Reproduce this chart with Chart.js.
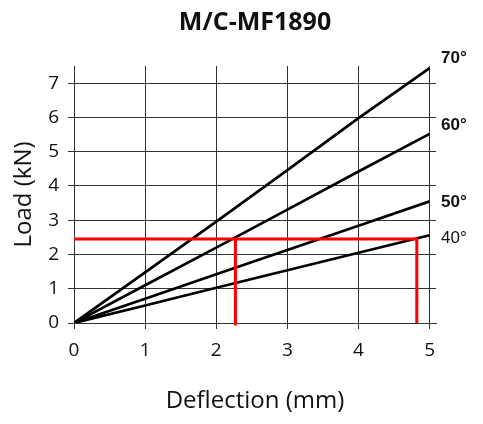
<!DOCTYPE html>
<html>
<head>
<meta charset="utf-8">
<script src="https://cdn.jsdelivr.net/npm/chart.js@4/dist/chart.umd.min.js"></script>
<style>
  html, body { margin: 0; padding: 0; background: #fff; }
  #wrap { width: 483px; height: 424px; }
</style>
</head>
<body>
<div id="wrap"><canvas id="grafica" width="483" height="424"></canvas></div>
<script>
// datos
const deflexion = [0, 1, 2, 3, 4, 5];
const carga70 = [0, 1.48, 2.96, 4.46, 5.98, 7.44];
const carga60 = [0, 1.10, 2.20, 3.31, 4.42, 5.52];
const carga50 = [0, 0.71, 1.42, 2.13, 2.84, 3.55];
const carga40 = [0, 0.51, 1.03, 1.54, 2.05, 2.56];

const etiquetasAngulo = ['70°', '60°', '50°', '40°'];
const posEtiquetas = [7.73, 5.77, 3.52, 2.46]; // altura de cada etiqueta (kN)
const negritaEtiquetas = [true, true, true, false];

// lineas rojas de lectura
const rojaHorizontal = [{x: 0, y: 2.45}, {x: 4.84, y: 2.45}];
const rojaVertical1 = [{x: 2.27, y: 2.45}, {x: 2.27, y: -0.07}];
const rojaVertical2 = [{x: 4.82, y: 2.45}, {x: 4.82, y: 0}];

const ticksX = [0, 1, 2, 3, 4, 5];
const ticksY = [0, 1, 2, 3, 4, 5, 6, 7];

function serie(ys) {
    return deflexion.map((x, i) => ({x: x, y: ys[i]}));
}

const negro = {borderColor: '#000', borderWidth: 2.7, pointRadius: 0, order: 2};
const rojo = {borderColor: '#ff0000', borderWidth: 3, pointRadius: 0, order: 1, clip: false};

const textos = {
    id: 'textos',
    afterDraw(chart) {
        const ctx = chart.ctx;
        const y = chart.scales.y;
        ctx.save();
        ctx.fillStyle = '#111';
        ctx.textAlign = 'center';
        ctx.textBaseline = 'middle';
        ctx.font = 'bold 25px "Open Sans"';
        ctx.fillText('M/C-MF1890', 255, 23);
        ctx.textAlign = 'left';
        etiquetasAngulo.forEach((t, i) => {
            ctx.font = (negritaEtiquetas[i] ? 'bold ' : '') + '17px "Liberation Sans Narrow", "Liberation Sans"';
            ctx.fillText(t, 441, y.getPixelForValue(posEtiquetas[i]));
        });
        ctx.restore();
    }
};

new Chart('grafica', {
    type: 'line',
    data: {
        datasets: [
            Object.assign({data: rojaHorizontal}, rojo),
            Object.assign({data: rojaVertical1}, rojo),
            Object.assign({data: rojaVertical2}, rojo),
            Object.assign({data: serie(carga70)}, negro),
            Object.assign({data: serie(carga60)}, negro),
            Object.assign({data: serie(carga50)}, negro),
            Object.assign({data: serie(carga40)}, negro)
        ]
    },
    options: {
        responsive: false,
        animation: false,
        layout: {padding: {top: 66, right: 47, left: 0, bottom: 0}},
        plugins: {
            legend: {display: false},
            title: {display: false},
            tooltip: {enabled: false}
        },
        scales: {
            x: {
                type: 'linear',
                min: 0,
                max: 5.09,
                afterBuildTicks: (s) => { s.ticks = ticksX.map(v => ({value: v})); },
                afterFit: (s) => { s.height = 101; },
                grid: {color: '#333', lineWidth: 1, tickLength: 6},
                border: {color: '#333'},
                ticks: {
                    color: '#111',
                    font: {family: 'Open Sans', size: 19},
                    padding: 10,
                    maxRotation: 0
                },
                title: {
                    display: true,
                    text: 'Deflection (mm)',
                    color: '#111',
                    font: {family: 'Open Sans', size: 24},
                    padding: {top: 0, bottom: 8}
                }
            },
            y: {
                type: 'linear',
                min: 0,
                max: 7.5,
                afterBuildTicks: (s) => { s.ticks = ticksY.map(v => ({value: v})); },
                afterFit: (s) => { s.width = 74; },
                grid: {color: '#333', lineWidth: 1, tickLength: 6},
                border: {color: '#333'},
                ticks: {
                    color: '#111',
                    font: {family: 'Open Sans', size: 19},
                    padding: 9
                },
                title: {
                    display: true,
                    text: 'Load (kN)',
                    color: '#111',
                    font: {family: 'Open Sans', size: 24},
                    padding: {top: 10, bottom: 0}
                }
            }
        }
    },
    plugins: [textos]
});
</script>
</body>
</html>
